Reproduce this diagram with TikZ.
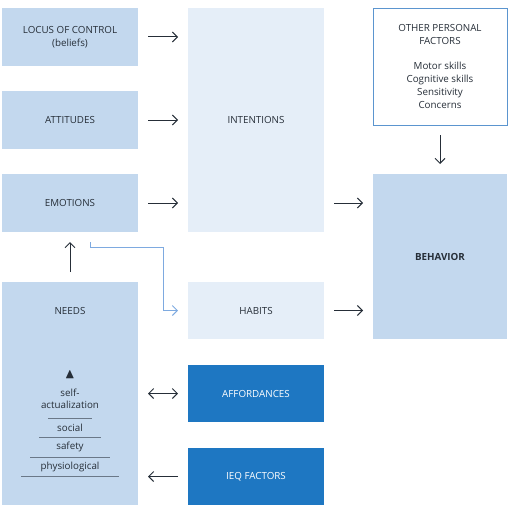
\documentclass[tikz,border=0pt]{standalone}
\usepackage{amssymb}
\usepackage{fontspec}
\setmainfont{Open Sans}
\usepackage{tikz}
\usetikzlibrary{arrows.meta,positioning,calc}
\definecolor{boxL}{HTML}{C3D8EE}
\definecolor{boxXL}{HTML}{E5EEF8}
\definecolor{boxD}{HTML}{1E77C2}
\definecolor{frameB}{HTML}{5B95CF}
\definecolor{txt}{HTML}{262E38}
\definecolor{habitC}{HTML}{7EAAE0}
\definecolor{levelC}{HTML}{6A7888}

\begin{document}
\begin{tikzpicture}[x=1pt, y=-1pt, >={Straight Barb[length=5pt,width=10pt]},
  box/.style={minimum width=136pt, inner sep=0pt, outer sep=0pt, align=center,
    text=txt, font=\fontsize{9.8}{13}\selectfont},
  lightbox/.style={box, fill=boxL},
  paleboxx/.style={box, fill=boxXL},
  darkbox/.style={box, fill=boxD, text=white},
  arr/.style={->, draw=txt, line width=1pt, shorten <=10pt, shorten >=10pt},
  habitarr/.style={->, draw=habitC, line width=1pt, shorten <=10pt, shorten >=10pt},
  level/.style={draw=levelC, line width=0.8pt},
  pyr/.style={text=txt, font=\fontsize{9.8}{12}\selectfont, inner sep=0pt, align=center}]
\useasboundingbox (0,0) rectangle (507,508);
% left column
\node[lightbox, minimum height=58pt] (locus) at (70,37) {LOCUS OF CONTROL\\(beliefs)};
\node[lightbox, minimum height=58pt] (attitudes) at (70,120) {ATTITUDES};
\node[lightbox, minimum height=58pt] (emotions) at (70,203) {EMOTIONS};
\node[lightbox, minimum height=223pt] (needs) at (70,393.5) {};
\node[pyr] (needslab) at (70,311) {NEEDS};
% middle column
\node[paleboxx, minimum height=224pt] (intentions) at (256,120) {INTENTIONS};
\node[paleboxx, minimum height=57pt] (habits) at (256,310.5) {HABITS};
\node[darkbox, minimum height=57pt] (afford) at (256,393.5) {AFFORDANCES};
\node[darkbox, minimum height=57pt] (ieq) at (256,476.5) {IEQ FACTORS};
% right column
\node[box, minimum width=134pt, minimum height=117pt, fill=white, draw=frameB, line width=0.8pt] (other) at (440,66.5)
  {OTHER PERSONAL\\FACTORS\\[12.7pt]Motor skills\\Cognitive skills\\Sensitivity\\Concerns};
\node[lightbox, minimum width=134pt, minimum height=165pt, font=\fontsize{9.8}{13}\selectfont\bfseries] (behavior) at (440,256.5) {BEHAVIOR};
% pyramid of needs
\node[text=txt, font=\fontsize{14}{14}\selectfont, inner sep=0pt] (apex) at (70,375) {$\blacktriangle$};
\node[pyr] (selfact) at (70,399) {self-\\actualization};
\draw[level] (48,418) -- (92,418);
\node[pyr] (social) at (70,427.5) {social};
\draw[level] (39,437.5) -- (101,437.5);
\node[pyr] (safety) at (70,447) {safety};
\draw[level] (30,457) -- (110,457);
\node[pyr] (physio) at (70,466.5) {physiological};
\draw[level] (21,476.5) -- (119,476.5);
% connectors
\foreach \src in {locus, attitudes, emotions}
  \draw[arr] (\src.east) -- (\src.east -| intentions.west);
\draw[arr] (emotions.east -| intentions.east) -- (emotions.east -| behavior.west);
\draw[arr] (habits.east) -- (habits.east -| behavior.west);
\draw[arr] (other.south) -- (behavior.north);
\draw[arr] (needs.north) -- (emotions.south);
\draw[arr, <->] (afford.west) -- (afford.west -| needs.east);
\draw[arr] (ieq.west) -- (ieq.west -| needs.east);
\draw[habitarr] ([xshift=20pt]emotions.south) -- ++(0,15) -| ($(habits.west)+(-25,0)$) -- (habits.west);
\end{tikzpicture}
\end{document}
